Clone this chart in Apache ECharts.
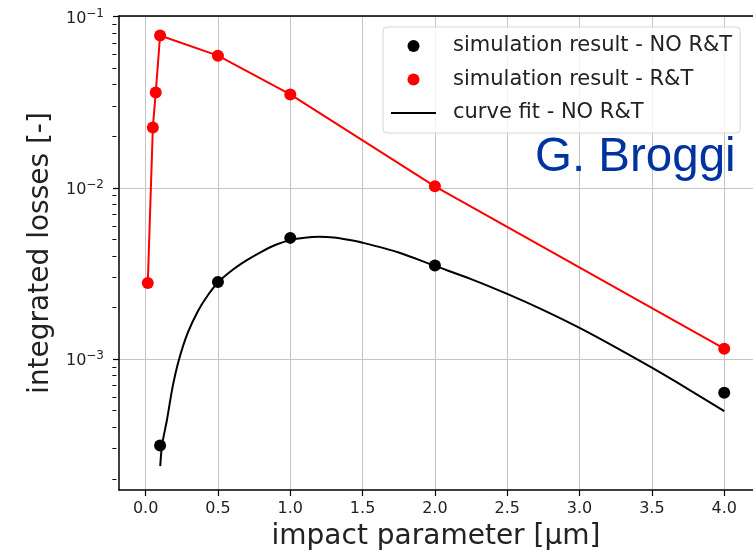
<!DOCTYPE html>
<html><head><meta charset="utf-8">
<script src="https://cdn.jsdelivr.net/npm/echarts@6/dist/echarts.min.js"></script>
<style>html,body{margin:0;padding:0;background:#fff}#c{width:753px;height:556px}</style>
</head><body><div id="c"></div>
<script>
// ---- data ----
const simX = [0.1, 0.5, 1.0, 2.0, 4.0];
const simNoRT = [3.13e-4, 2.82e-3, 5.10e-3, 3.52e-3, 6.36e-4];
const rtX = [0.015, 0.05, 0.07, 0.1, 0.5, 1.0, 2.0, 4.0];
const simRT = [2.78e-3, 2.25e-2, 3.60e-2, 7.75e-2, 5.91e-2, 3.51e-2, 1.02e-2, 1.15e-3];
const fitX = [0.101, 0.114, 0.147, 0.188, 0.231, 0.291, 0.362, 0.429, 0.5, 0.6, 0.7, 0.8, 0.9, 1.0, 1.1, 1.2, 1.3, 1.4, 1.5,
  1.75, 2.0, 2.25, 2.5, 2.75, 3.0, 3.25, 3.5, 3.75, 4.0];
const fitNoRT = [2.37e-4, 3.15e-4, 4.39e-4, 6.97e-4, 9.95e-4, 1.42e-3, 1.91e-3, 2.35e-3, 2.80e-3, 3.31e-3, 3.78e-3, 4.23e-3, 4.65e-3, 4.95e-3, 5.11e-3, 5.17e-3, 5.12e-3, 4.97e-3, 4.78e-3,
  4.19e-3, 3.50e-3, 2.93e-3, 2.40e-3, 1.93e-3, 1.52e-3, 1.17e-3, 8.90e-4, 6.68e-4, 4.97e-4];
const xTicks = [0, 0.5, 1.0, 1.5, 2.0, 2.5, 3.0, 3.5, 4.0];
const yMajorTicks = [1e-3, 1e-2, 1e-1];
const yMinorTicks = [2e-4, 3e-4, 4e-4, 5e-4, 6e-4, 7e-4, 8e-4, 9e-4,
  2e-3, 3e-3, 4e-3, 5e-3, 6e-3, 7e-3, 8e-3, 9e-3,
  2e-2, 3e-2, 4e-2, 5e-2, 6e-2, 7e-2, 8e-2, 9e-2];
const seriesNames = ['simulation result - NO R&T', 'simulation result - R&T', 'curve fit - NO R&T'];

// ---- layout ----
const X_MIN = -0.184, X_MAX = 4.199;
const Y_MIN = 1.72e-4, Y_MAX = 0.1007;
const GL = 119, GT = 16, GB = 64;
const GW = (X_MAX - X_MIN) * 145.25;
const GR = 753 - GL - GW;
const FONT = 'DejaVu Sans';
const TXT = '#222';

const zip = (xs, ys) => xs.map((x, i) => [x, ys[i]]);

const chart = echarts.init(document.getElementById('c'), null, {renderer: 'canvas'});
chart.setOption({
  animation: false,
  backgroundColor: '#fff',
  grid: {left: GL, right: GR, top: GT, bottom: GB, containLabel: false},
  legend: {
    orient: 'vertical', left: 383, top: 27,
    data: [
      {name: seriesNames[0], icon: 'circle'},
      {name: seriesNames[1], icon: 'circle'},
      {name: seriesNames[2], icon: 'path://M0,0H45V2H0Z'}
    ],
    itemWidth: 45, itemHeight: 12, itemGap: 9.5,
    textStyle: {fontFamily: FONT, fontSize: 21, color: TXT, lineHeight: 24, padding: [0, 0, 0, 12]},
    padding: [7, 8, 8, 8],
    backgroundColor: 'rgba(255,255,255,0.8)',
    borderColor: '#d6d6d6', borderWidth: 1, borderRadius: 4
  },
  xAxis: [{
    type: 'value', min: X_MIN, max: X_MAX, position: 'bottom',
    axisLine: {show: true, onZero: false, lineStyle: {color: '#000', width: 1.5}},
    axisTick: {show: true, length: 6, customValues: xTicks, lineStyle: {color: '#000', width: 1.2}},
    axisLabel: {customValues: xTicks, formatter: v => v.toFixed(1), fontFamily: FONT, fontSize: 16, color: TXT, margin: 11},
    splitLine: {show: true, lineStyle: {color: '#c4c4c4', width: 1}},
    name: 'impact parameter [μm]', nameLocation: 'middle', nameGap: 33,
    nameTextStyle: {fontFamily: FONT, fontSize: 28, color: TXT}
  }, {
    type: 'value', min: X_MIN, max: X_MAX, position: 'top',
    axisLine: {show: true, onZero: false, lineStyle: {color: '#000', width: 1.5}},
    axisTick: {show: false}, axisLabel: {show: false}, splitLine: {show: false}
  }],
  yAxis: [{
    type: 'log', logBase: 10, min: Y_MIN, max: Y_MAX, position: 'left',
    axisLine: {show: true, onZero: false, lineStyle: {color: '#000', width: 1.5}},
    axisTick: {show: true, length: 6, customValues: yMajorTicks, lineStyle: {color: '#000', width: 1.2}},
    axisLabel: {
      customValues: yMajorTicks, margin: 15,
      formatter: v => '{b|10}{s|−' + (-Math.round(Math.log10(v))) + '}',
      rich: {
        b: {fontFamily: FONT, fontSize: 16, color: TXT, padding: [4, 0, 0, 0]},
        s: {fontFamily: FONT, fontSize: 12, color: TXT, padding: [0, 0, 6, 0]}
      }
    },
    splitLine: {show: true, lineStyle: {color: '#c4c4c4', width: 1}},
    name: 'integrated losses [-]', nameLocation: 'middle', nameGap: 62,
    nameTextStyle: {fontFamily: FONT, fontSize: 28, color: TXT}
  }, {
    type: 'log', logBase: 10, min: Y_MIN, max: Y_MAX, position: 'right', offset: -GW,
    axisLine: {show: false, onZero: false},
    axisTick: {show: true, inside: true, length: 4, customValues: yMinorTicks, lineStyle: {color: '#000', width: 1}},
    axisLabel: {show: false}, splitLine: {show: false}
  }],
  series: [{
    name: 'R&T line', type: 'line', xAxisIndex: 0, yAxisIndex: 0,
    data: zip(rtX, simRT), symbol: 'none', z: 3,
    lineStyle: {color: '#ff0000', width: 2}
  }, {
    name: seriesNames[2], type: 'line', xAxisIndex: 0, yAxisIndex: 0,
    data: zip(fitX, fitNoRT), symbol: 'none', smooth: 0.3, z: 3,
    itemStyle: {color: '#000'},
    lineStyle: {color: '#000', width: 2}
  }, {
    name: seriesNames[0], type: 'scatter', xAxisIndex: 0, yAxisIndex: 0,
    data: zip(simX, simNoRT), symbol: 'circle', symbolSize: 12, z: 4,
    itemStyle: {color: '#000', opacity: 1}
  }, {
    name: seriesNames[1], type: 'scatter', xAxisIndex: 0, yAxisIndex: 0,
    data: zip(rtX, simRT), symbol: 'circle', symbolSize: 12, z: 4,
    itemStyle: {color: '#ff0000', opacity: 1}
  }],
  graphic: [{
    type: 'text', left: 535, top: 134, z: 100,
    style: {text: 'G. Broggi', font: '47.5px "Liberation Sans", Arial, sans-serif', fill: '#0033a0'}
  }]
});
</script>
</body></html>
